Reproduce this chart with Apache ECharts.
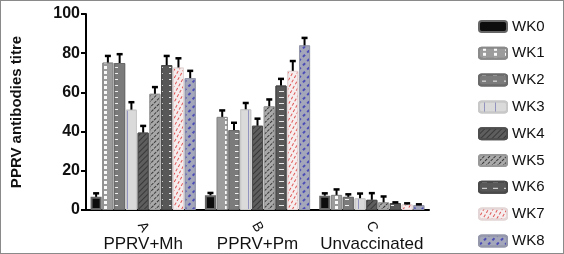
<!DOCTYPE html>
<html>
<head>
<meta charset="utf-8">
<script src="https://cdn.jsdelivr.net/npm/echarts@6/dist/echarts.min.js"></script>
<style>
html,body{margin:0;padding:0;background:#fff;}
#c{width:564px;height:254px;box-sizing:border-box;border:1px solid #8a8a8a;}
</style>
</head>
<body>
<div id="c"></div>
<script>
// ---- data ----
const categories = ['PPRV+Mh', 'PPRV+Pm', 'Unvaccinated'];
const groupLetters = ['A', 'B', 'C'];
const weeks = ['WK0', 'WK1', 'WK2', 'WK3', 'WK4', 'WK5', 'WK6', 'WK7', 'WK8'];
// mean titre per week, for each group
const meanA = [6.7, 75.2, 75.0, 51.2, 39.5, 59.3, 73.9, 72.7, 67.3];
const meanB = [7.5, 47.5, 40.8, 51.4, 43.0, 52.9, 63.5, 71.0, 84.0];
const meanC = [7.3, 7.7, 6.7, 6.0, 5.2, 3.9, 3.5, 2.9, 2.5];
// error (upper) per week, for each group
const errA = [1.8, 3.4, 4.5, 3.8, 3.4, 3.4, 4.7, 4.7, 3.7];
const errB = [1.2, 3.3, 3.7, 3.2, 3.6, 3.5, 3.4, 5.0, 3.8];
const errC = [1.2, 2.8, 1.3, 2.4, 3.4, 3.0, 0.4, 0.5, 0.4];
const yTicks = [0, 20, 40, 60, 80, 100];

// ---- styles ----
const FONT = 'Liberation Sans, Arial, sans-serif';
const styles = [
  {color: '#0d0d0d', borderColor: '#666', borderWidth: 2},
  {color: '#9c9c9c', borderColor: '#8a8a8a', borderWidth: 1,
   decal: {symbol: 'rect', color: 'rgba(255,255,255,0.95)', dashArrayX: [[0, 4, 3, 4]], dashArrayY: [3, 1.5], symbolSize: 1}},
  {color: '#7b7b7b', borderColor: '#6a6a6a', borderWidth: 1,
   decal: {symbol: 'rect', color: 'rgba(255,255,255,0.9)', dashArrayX: [[0, 3, 4, 4]], dashArrayY: [1, 5], symbolSize: 1}},
  {color: '#dadada', borderColor: '#c8c8c8', borderWidth: 1,
   decal: {symbol: 'rect', color: 'rgba(90,90,170,0.55)', dashArrayX: [[0, 5, 1, 5]], dashArrayY: [1, 0], symbolSize: 1}},
  {color: '#5e5e5e', borderColor: '#4e4e4e', borderWidth: 1,
   decal: {symbol: 'rect', color: 'rgba(40,40,40,0.7)', dashArrayX: [1, 0], dashArrayY: [1, 3], rotation: -Math.PI / 4, symbolSize: 1}},
  {color: '#a9a9a9', borderColor: '#999', borderWidth: 1,
   decal: {symbol: 'rect', color: 'rgba(30,30,30,0.8)', dashArrayX: [3, 1], dashArrayY: [1, 3], rotation: -Math.PI / 4, symbolSize: 1}},
  {color: '#585858', borderColor: '#4a4a4a', borderWidth: 1,
   decal: {symbol: 'rect', color: 'rgba(255,255,255,0.85)', dashArrayX: [[0, 3, 5, 3]], dashArrayY: [1, 5], symbolSize: 1}},
  {color: '#f6eeee', borderColor: '#e4d6d6', borderWidth: 1,
   decal: {symbol: 'rect', color: 'rgba(220,60,60,0.85)', dashArrayX: [3, 2], dashArrayY: [1, 3], rotation: -Math.PI / 3, symbolSize: 1}},
  {color: '#a4a7ba', borderColor: '#9598ab', borderWidth: 1,
   decal: {symbol: 'rect', color: 'rgba(60,60,180,0.85)', dashArrayX: [3, 3], dashArrayY: [1.5, 4], rotation: -Math.PI / 4, symbolSize: 1}}
];

const CAT_GAP = 0.08, BAR_GAP = 0.06;
const barSeries = weeks.map((w, i) => ({
  name: w,
  type: 'bar',
  barCategoryGap: (CAT_GAP * 100) + '%',
  barGap: (BAR_GAP * 100) + '%',
  data: [meanA[i], meanB[i], meanC[i]],
  itemStyle: styles[i],
  emphasis: {disabled: true},
  z: 2
}));

const errData = [];
[[meanA, errA], [meanB, errB], [meanC, errC]].forEach(([m, e], ci) => {
  weeks.forEach((w, si) => errData.push([ci, m[si], e[si], si]));
});

const errSeries = {
  type: 'custom',
  name: 'err',
  z: 5,
  encode: {x: 0, y: 1},
  data: errData,
  renderItem: function (params, api) {
    const ci = api.value(0), v = api.value(1), e = api.value(2), si = api.value(3);
    const base = api.coord([ci, v]);
    const top = api.coord([ci, v + e]);
    const bandW = api.size([1, 0])[0];
    const avail = bandW * (1 - CAT_GAP);
    const n = weeks.length;
    const bw = avail / (n + (n - 1) * BAR_GAP);
    const x = base[0] - avail / 2 + si * bw * (1 + BAR_GAP) + bw / 2;
    const st = {stroke: '#000', lineWidth: 2};
    return {
      type: 'group',
      children: [
        {type: 'line', shape: {x1: x, y1: base[1], x2: x, y2: top[1]}, style: st},
        {type: 'line', shape: {x1: x - 3, y1: top[1], x2: x + 3, y2: top[1]}, style: {stroke: '#000', lineWidth: 2.5}}
      ]
    };
  }
};

const chart = echarts.init(document.getElementById('c'), null, {renderer: 'canvas'});
chart.setOption({
  animation: false,
  textStyle: {fontFamily: FONT},
  grid: {left: 84, right: 134, top: 13, bottom: 42},
  legend: {
    orient: 'vertical',
    left: 477,
    top: 18,
    padding: 0,
    itemWidth: 28,
    itemHeight: 11,
    itemGap: 11.8,
    data: weeks,
    textStyle: {fontSize: 15, color: '#111', fontFamily: FONT},
    selectedMode: false
  },
  xAxis: [
    {
      type: 'category',
      data: categories,
      position: 'bottom',
      axisLine: {lineStyle: {color: '#000', width: 2}},
      axisTick: {alignWithLabel: true, length: 5, lineStyle: {color: '#000', width: 2}},
      axisLabel: {interval: 0, color: '#111', fontSize: 17, margin: 26, fontFamily: FONT}
    },
    {
      type: 'category',
      data: groupLetters,
      position: 'bottom',
      axisLine: {show: false},
      axisTick: {show: false},
      axisLabel: {interval: 0, color: '#111', fontSize: 14, margin: 17, rotate: -60, align: 'center', verticalAlign: 'middle', fontFamily: FONT}
    }
  ],
  yAxis: {
    type: 'value',
    min: yTicks[0],
    max: yTicks[yTicks.length - 1],
    interval: yTicks[1] - yTicks[0],
    name: 'PPRV antibodies titre',
    nameLocation: 'middle',
    nameGap: 62,
    nameTextStyle: {fontSize: 15, fontWeight: 'bold', color: '#111', fontFamily: FONT},
    splitLine: {show: false},
    axisLine: {show: true, lineStyle: {color: '#000', width: 2}},
    axisTick: {show: true, length: 5, lineStyle: {color: '#000', width: 2}},
    axisLabel: {color: '#111', fontSize: 16, fontWeight: 'bold', margin: 6, fontFamily: FONT}
  },
  series: barSeries.concat([errSeries])
});
</script>
</body>
</html>
